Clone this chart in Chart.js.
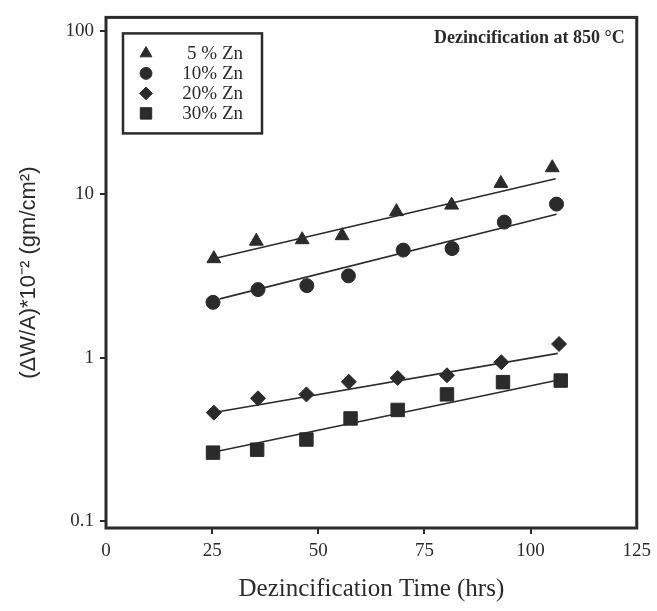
<!DOCTYPE html>
<html>
<head>
<meta charset="utf-8">
<script src="https://cdn.jsdelivr.net/npm/chart.js@4.4.1/dist/chart.umd.min.js"></script>
<style>
  html, body { margin: 0; padding: 0; background: #fff; }
</style>
</head>
<body>
<canvas id="chart" width="657" height="611"></canvas>
<script>
// Data
const seriesLabels = ['5 % Zn', '10% Zn', '20% Zn', '30% Zn'];
const pointStyles = ['triangle', 'circle', 'rectRot', 'rect'];

const time5 = [25.4, 35.4, 46.2, 55.6, 68.4, 81.4, 93.0, 105.1];
const gain5 = [4.04, 5.17, 5.28, 5.59, 7.85, 8.61, 11.7, 14.6];
const time10 = [25.2, 35.8, 47.3, 57.1, 70.0, 81.5, 93.8, 106.1];
const gain10 = [2.18, 2.61, 2.76, 3.17, 4.56, 4.66, 6.77, 8.73];
const time20 = [25.4, 35.8, 47.2, 57.2, 68.7, 80.3, 93.1, 106.7];
const gain20 = [0.459, 0.562, 0.594, 0.709, 0.749, 0.778, 0.936, 1.21];
const time30 = [25.2, 35.6, 47.2, 57.6, 68.7, 80.3, 93.5, 107.1];
const gain30 = [0.261, 0.272, 0.314, 0.423, 0.477, 0.594, 0.706, 0.722];

// fitted straight lines (start and end points)
const fitTime5 = [26.3, 105.9], fitGain5 = [4.09, 12.5];
const fitTime10 = [26.8, 106.1], fitGain10 = [2.29, 7.57];
const fitTime20 = [26.8, 106.4], fitGain20 = [0.466, 1.06];
const fitTime30 = [26.3, 107.1], fitGain30 = [0.266, 0.733];

const yTicks = [0.1, 1, 10, 100];
const xTicks = [0, 25, 50, 75, 100, 125];

const ink = '#2b2b2b';
const pts = (xs, ys) => xs.map((x, i) => ({ x: x, y: ys[i] }));
const radii = [8, 7, 7.5, 9.5];

const series = [[time5, gain5], [time10, gain10], [time20, gain20], [time30, gain30]];
const fits = [[fitTime5, fitGain5], [fitTime10, fitGain10], [fitTime20, fitGain20], [fitTime30, fitGain30]];

const datasets = [];
fits.forEach(f => {
    datasets.push({
        data: pts(f[0], f[1]),
        showLine: true,
        borderColor: ink,
        borderWidth: 1.6,
        pointRadius: 0
    });
});
series.forEach((s, i) => {
    datasets.push({
        label: seriesLabels[i],
        data: pts(s[0], s[1]),
        pointStyle: pointStyles[i],
        pointRadius: radii[i],
        backgroundColor: ink,
        borderColor: ink,
        borderWidth: 1
    });
});

// frame, inner title and legend box
const decor = {
    id: 'decor',
    afterDraw(chart) {
        const { ctx, chartArea: a } = chart;
        ctx.save();
        ctx.strokeStyle = ink;
        ctx.lineWidth = 3;
        ctx.strokeRect(a.left, a.top, a.right - a.left, a.bottom - a.top);

        ctx.fillStyle = ink;
        ctx.font = 'bold 18px "Liberation Serif"';
        ctx.textAlign = 'right';
        ctx.textBaseline = 'middle';
        ctx.fillText('Dezincification at 850 \u00B0C', a.right - 12, a.top + 21);

        // legend
        ctx.lineWidth = 2.5;
        ctx.strokeRect(a.left + 17, a.top + 16, 139, 100);
        const rows = [36, 56, 76, 96];
        seriesLabels.forEach((lab, i) => {
            ctx.fillStyle = ink;
            ctx.strokeStyle = ink;
            ctx.lineWidth = 1;
            Chart.helpers.drawPoint(ctx, {
                pointStyle: pointStyles[i], radius: radii[i] * 0.85, rotation: 0, borderWidth: 1
            }, a.left + 40, a.top + rows[i]);
            ctx.font = '19px "Liberation Serif"';
            ctx.textAlign = 'right';
            ctx.fillText(lab, a.left + 137, a.top + rows[i] + 1);
        });
        ctx.restore();
    }
};

new Chart(document.getElementById('chart'), {
    type: 'scatter',
    data: { datasets: datasets },
    plugins: [decor],
    options: {
        responsive: false,
        animation: false,
        layout: { padding: { top: 12, right: 19, left: 0, bottom: 0 } },
        plugins: {
            legend: { display: false },
            tooltip: { enabled: false }
        },
        scales: {
            x: {
                type: 'linear',
                min: 0,
                max: 125,
                afterFit: s => { s.height = 83; },
                afterBuildTicks: s => { s.ticks = xTicks.map(v => ({ value: v })); },
                border: { display: false },
                grid: {
                    drawOnChartArea: false,
                    tickLength: 6,
                    lineWidth: 2,
                    color: c => (c.tick && (c.tick.value === 0 || c.tick.value === 125)) ? 'rgba(0,0,0,0)' : ink
                },
                ticks: {
                    padding: 6,
                    color: ink,
                    maxRotation: 0,
                    font: { family: 'Liberation Serif', size: 19 }
                },
                title: {
                    display: true,
                    text: 'Dezincification Time (hrs)',
                    color: ink,
                    padding: { top: 0, bottom: 7 },
                    font: { family: 'Liberation Serif', size: 25 }
                }
            },
            y: {
                type: 'logarithmic',
                min: 0.09,
                max: 122,
                afterFit: s => { s.width = 106; },
                afterBuildTicks: s => { s.ticks = yTicks.map(v => ({ value: v })); },
                border: { display: false },
                grid: {
                    drawOnChartArea: false,
                    tickLength: 6,
                    lineWidth: 2,
                    color: ink
                },
                ticks: {
                    padding: 6,
                    color: ink,
                    font: { family: 'Liberation Serif', size: 19 },
                    callback: v => String(v)
                },
                title: {
                    display: true,
                    text: '(\u0394W/A)*10\u207B\u00B2 (gm/cm\u00B2)',
                    color: ink,
                    padding: { top: 16, bottom: 0 },
                    font: { family: 'Liberation Sans', size: 22 }
                }
            }
        }
    }
});
</script>
</body>
</html>
